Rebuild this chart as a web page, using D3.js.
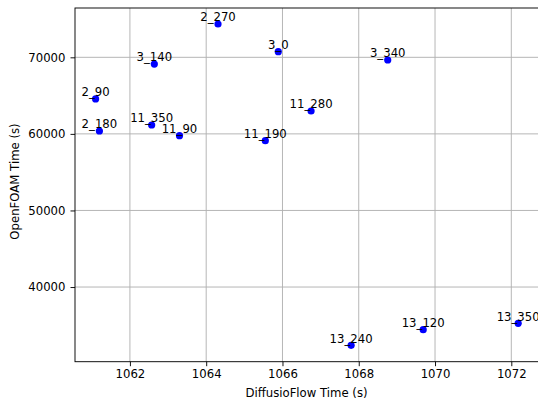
<!DOCTYPE html>
<html>
<head>
<meta charset="utf-8">
<script src="https://cdn.jsdelivr.net/npm/d3@7"></script>
<style>
  html, body { margin: 0; padding: 0; background: #fff; }
  svg { display: block; }
  text { font-family: "DejaVu Sans", sans-serif; }
</style>
</head>
<body>
<svg id="chart" width="538" height="403"></svg>
<script>
const labels = ["2_270", "3_0", "3_140", "2_90", "2_180", "11_350", "11_90", "11_190", "11_280", "3_340", "13_240", "13_120", "13_350"];
const diffusioFlow = [1064.31, 1065.89, 1062.64, 1061.10, 1061.20, 1062.57, 1063.30, 1065.55, 1066.75, 1068.76, 1067.80, 1069.69, 1072.18];
const openFoam = [74350, 70730, 69120, 64560, 60380, 61160, 59770, 59110, 62990, 69650, 32390, 34430, 35260];
const xTicks = [1062, 1064, 1066, 1068, 1070, 1072];
const yTicks = [40000, 50000, 60000, 70000];

const W = 538, H = 403;
const margin = { left: 75, top: 8, right: 538, bottom: 361.7 };
const fs = 11.7;

const svg = d3.select("#chart");
const x = d3.scaleLinear().domain([1060.56, 1072.7]).range([margin.left, margin.right]);
const y = d3.scaleLinear().domain([30250, 76440]).range([margin.bottom, margin.top]);

// grid
const g = svg.append("g");
g.selectAll("line.gx").data(xTicks).join("line")
  .attr("x1", d => x(d)).attr("x2", d => x(d))
  .attr("y1", margin.top).attr("y2", margin.bottom)
  .attr("stroke", "#b0b0b0").attr("stroke-width", 0.93);
g.selectAll("line.gy").data(yTicks).join("line")
  .attr("x1", margin.left).attr("x2", margin.right)
  .attr("y1", d => y(d)).attr("y2", d => y(d))
  .attr("stroke", "#b0b0b0").attr("stroke-width", 0.93);

// axes
const xAxis = d3.axisBottom(x).tickValues(xTicks).tickFormat(d3.format("d")).tickSize(4.5).tickPadding(4);
const yAxis = d3.axisLeft(y).tickValues(yTicks).tickFormat(d => String(d)).tickSize(4.5).tickPadding(5);

const gx = svg.append("g").attr("transform", `translate(0,${margin.bottom})`).call(xAxis);
const gy = svg.append("g").attr("transform", `translate(${margin.left},0)`).call(yAxis);
[gx, gy].forEach(a => {
  a.select(".domain").remove();
  a.selectAll(".tick line").attr("stroke", "#000").attr("stroke-width", 0.93);
  a.selectAll(".tick text").attr("fill", "#000").style("font-size", fs + "px").style("font-family", "DejaVu Sans");
});

// spines
svg.append("rect")
  .attr("x", margin.left).attr("y", margin.top)
  .attr("width", margin.right - margin.left + 2).attr("height", margin.bottom - margin.top)
  .attr("fill", "none").attr("stroke", "#000").attr("stroke-width", 0.93);

// points
const data = labels.map((l, i) => ({ label: l, x: diffusioFlow[i], y: openFoam[i] }));
svg.append("g").selectAll("circle").data(data).join("circle")
  .attr("cx", d => x(d.x)).attr("cy", d => y(d.y)).attr("r", 3.6)
  .attr("fill", "#0000ff");
svg.append("g").selectAll("text").data(data).join("text")
  .attr("x", d => x(d.x)).attr("y", d => y(d.y) - 2.8)
  .attr("text-anchor", "middle")
  .style("font-size", fs + "px").attr("fill", "#000")
  .text(d => d.label);

// axis labels
svg.append("text").attr("x", (margin.left + margin.right) / 2).attr("y", 397)
  .attr("text-anchor", "middle").style("font-size", fs + "px").attr("fill", "#000")
  .text("DiffusioFlow Time (s)");
svg.append("text")
  .attr("transform", `translate(19,181.5) rotate(-90)`)
  .attr("text-anchor", "middle").style("font-size", fs + "px").attr("fill", "#000")
  .text("OpenFOAM Time (s)");
</script>
</body>
</html>
